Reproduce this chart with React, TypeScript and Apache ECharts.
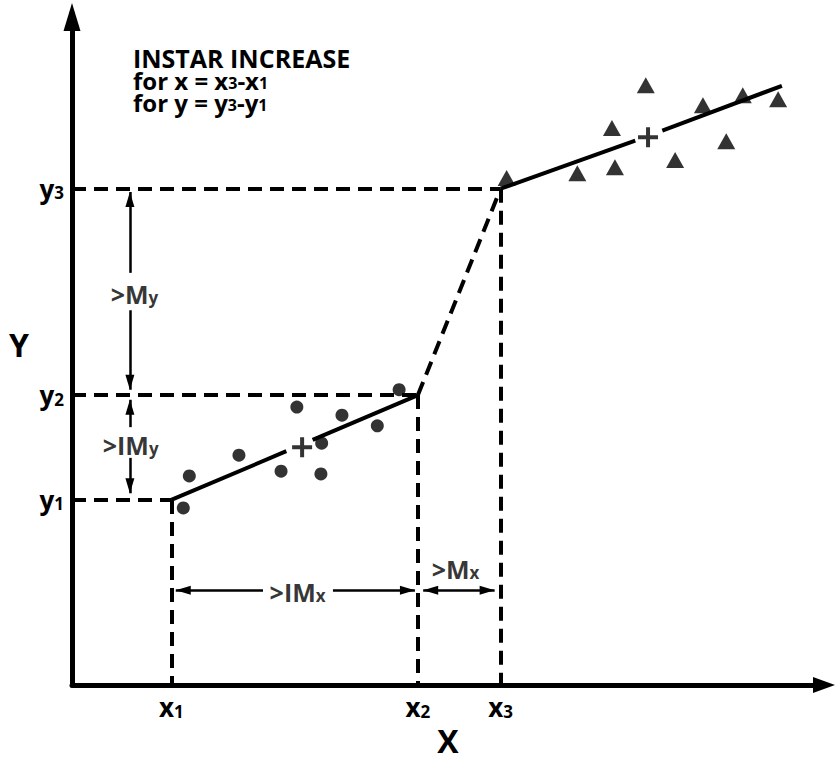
import React, { useEffect, useRef } from "react";
import * as echarts from "echarts";

// ---- data (axis units: 0..100 on both axes) ----
const x1 = 13.2;
const x2 = 46.0;
const x3 = 57.0;
const y1 = 27.7;
const y2 = 43.4;
const y3 = 74.3;

const xTickValues = [x1, x2, x3];
const xTickSubs = ["1", "2", "3"];
const yTickValues = [y1, y2, y3];
const yTickSubs = ["1", "2", "3"];

const circlePoints = [
  [14.8, 26.5],
  [15.6, 31.3],
  [22.2, 34.4],
  [27.8, 32.0],
  [29.9, 41.6],
  [33.2, 36.2],
  [33.1, 31.6],
  [35.9, 40.4],
  [40.6, 38.8],
  [43.5, 44.2],
];

const trianglePoints = [
  [57.8, 75.9],
  [67.2, 76.6],
  [72.2, 77.5],
  [71.8, 83.4],
  [76.3, 89.8],
  [80.2, 78.6],
  [83.9, 86.8],
  [87.0, 81.4],
  [89.2, 88.3],
  [93.9, 87.7],
];

const centroids = [
  [30.6, 35.6],
  [76.6, 82.0],
];

const lowerFitA = [
  [x1, y1],
  [28.5, 35.0],
];
const lowerFitB = [
  [32.0, 36.7],
  [x2, y2],
];
const upperFitA = [
  [x3, y3],
  [74.9, 81.5],
];
const upperFitB = [
  [78.5, 83.0],
  [94.4, 89.7],
];
const transitionLine = [
  [x2, y2],
  [x3, y3],
];

const guideLines = [
  [[0, y3], [x3, y3]],
  [[0, y2], [x2, y2]],
  [[0, y1], [x1, y1]],
  [[x1, y1], [x1, 0]],
  [[x2, y2], [x2, 0]],
  [[x3, y3], [x3, 0]],
];

// single-headed arrows: head at second point
const singleArrows = [
  [[7.7, 61.7], [7.7, 73.8]],
  [[7.7, 56.1], [7.7, 44.2]],
  [[7.7, 38.6], [7.7, 42.7]],
  [[7.7, 34.0], [7.7, 28.7]],
  [[25.4, 14.2], [13.8, 14.2]],
  [[34.7, 14.2], [45.6, 14.2]],
];
const doubleArrows = [[[46.7, 14.2], [56.2, 14.2]]];

const annotationPoints = [
  [8.3, 58.5],
  [7.8, 36.0],
  [30.0, 13.9],
  [51.0, 17.4],
];
const annotationTexts = [
  "{m|>M}{s|y}",
  "{m|>IM}{s|y}",
  "{m|>IM}{s|x}",
  "{m|>M}{s|x}",
];

const FONT = "Open Sans";

const subRich = (size: number, lh: number, sub: number, drop: number) => ({
  m: { fontSize: size, fontWeight: "bold", fontFamily: FONT, color: "#000", lineHeight: lh },
  s: {
    fontSize: sub,
    fontWeight: "bold",
    fontFamily: FONT,
    color: "#000",
    lineHeight: sub,
    padding: [drop, 0, 0, 0],
  },
});

export default function App() {
  const ref = useRef<HTMLDivElement>(null);

  useEffect(() => {
    if (!ref.current) return;
    const chart = echarts.init(ref.current, null, { renderer: "svg" });

    const seg = (pts: number[][][]) =>
      pts.map((p) => [{ coord: p[0] }, { coord: p[1] }]);

    const fitStyle = { color: "#000", width: 4 };

    const option: any = {
      animation: false,
      backgroundColor: "#fff",
      title: {
        left: 133,
        top: 47,
        padding: 0,
        text:
          "{h|INSTAR INCREASE}\n{f|for x = x}{s|3}{f|-x}{s|1}\n{f|for y = y}{s|3}{f|-y}{s|1}",
        textStyle: {
          rich: {
            h: { fontSize: 25, fontWeight: "bold", fontFamily: FONT, color: "#000", lineHeight: 22 },
            f: { fontSize: 24, fontWeight: "bold", fontFamily: FONT, color: "#000", lineHeight: 22 },
            s: { fontSize: 16, fontWeight: "bold", fontFamily: FONT, color: "#000", lineHeight: 16, padding: [6, 0, 0, 0] },
          },
        },
      },
      graphic: [
        {
          type: "text",
          left: 9,
          top: 328,
          style: { text: "Y", fontSize: 32, fontWeight: "bold", fontFamily: FONT, fill: "#000" },
          silent: true,
        },
      ],
      grid: { left: 72, right: 11, top: 17, bottom: 72, containLabel: false, outerBoundsMode: "none" },
      xAxis: {
        type: "value",
        min: 0,
        max: 100,
        name: "X",
        nameLocation: "middle",
        nameGap: 40,
        nameTextStyle: { fontSize: 32, fontWeight: "bold", fontFamily: FONT, color: "#000", lineHeight: 28 },
        axisLine: {
          show: true,
          symbol: ["none", "triangle"],
          symbolSize: [16, 22],
          lineStyle: { color: "#000", width: 5 },
        },
        axisTick: { show: false },
        splitLine: { show: false },
        axisLabel: {
          show: true,
          customValues: xTickValues,
          margin: 9,
          formatter: (v: number) => {
            const i = xTickValues.indexOf(v);
            return "{m|x}{s|" + (i >= 0 ? xTickSubs[i] : "") + "}";
          },
          rich: subRich(26, 26, 17, 8),
        },
      },
      yAxis: {
        type: "value",
        min: 0,
        max: 100,
        axisLine: {
          show: true,
          symbol: ["none", "triangle"],
          symbolSize: [17, 28],
          lineStyle: { color: "#000", width: 5 },
        },
        axisTick: { show: false },
        splitLine: { show: false },
        axisLabel: {
          show: true,
          customValues: yTickValues,
          margin: 8,
          formatter: (v: number) => {
            const i = yTickValues.indexOf(v);
            return "{m|y}{s|" + (i >= 0 ? yTickSubs[i] : "") + "}";
          },
          rich: subRich(26, 26, 17, 8),
        },
      },
      series: [
        {
          name: "guides",
          type: "line",
          data: transitionLine,
          showSymbol: false,
          symbol: "none",
          lineStyle: { color: "#000", width: 4, type: [14, 8] },
          silent: true,
          z: 2,
          markLine: {
            silent: true,
            symbol: ["none", "none"],
            label: { show: false },
            lineStyle: { color: "#000", width: 4, type: [14, 8] },
            emphasis: { disabled: true },
            data: seg(guideLines),
          },
        },
        { type: "line", data: lowerFitA, symbol: "none", lineStyle: fitStyle, silent: true, z: 3 },
        { type: "line", data: lowerFitB, symbol: "none", lineStyle: fitStyle, silent: true, z: 3 },
        { type: "line", data: upperFitA, symbol: "none", lineStyle: fitStyle, silent: true, z: 3 },
        { type: "line", data: upperFitB, symbol: "none", lineStyle: fitStyle, silent: true, z: 3 },
        {
          name: "before",
          type: "scatter",
          data: circlePoints,
          symbol: "circle",
          symbolSize: 13,
          itemStyle: { color: "#000" },
          silent: true,
          z: 4,
        },
        {
          name: "after",
          type: "scatter",
          data: trianglePoints,
          symbol: "triangle",
          symbolSize: [18, 16],
          itemStyle: { color: "#000" },
          silent: true,
          z: 4,
        },
        {
          name: "centroid",
          type: "scatter",
          data: centroids,
          symbol: "path://M8,0H12V8H20V12H12V20H8V12H0V8H8Z",
          symbolSize: 20,
          itemStyle: { color: "#000" },
          silent: true,
          z: 4,
        },
        {
          name: "labels",
          type: "scatter",
          data: annotationPoints.map((p, i) => ({ value: p, name: annotationTexts[i] })),
          symbolSize: 0,
          silent: true,
          z: 5,
          label: {
            show: true,
            position: "inside",
            formatter: "{b}",
            rich: subRich(25, 24, 17, 7),
          },
          markLine: {
            silent: true,
            symbol: ["none", "triangle"],
            symbolSize: [9, 15],
            symbolOffset: [[0, 7.5], [0, 7.5]],
            label: { show: false },
            lineStyle: { color: "#000", width: 2.5, type: "solid" },
            emphasis: { disabled: true },
            data: seg(singleArrows),
          },
        },
        {
          name: "doubleArrow",
          type: "scatter",
          data: [],
          silent: true,
          markLine: {
            silent: true,
            symbol: ["triangle", "triangle"],
            symbolSize: [9, 15],
            symbolOffset: [[0, 7.5], [0, 7.5]],
            label: { show: false },
            lineStyle: { color: "#000", width: 2.5, type: "solid" },
            emphasis: { disabled: true },
            data: seg(doubleArrows),
          },
        },
      ],
    };

    chart.setOption(option);
    return () => chart.dispose();
  }, []);

  return (
    <div
      ref={ref}
      style={{ position: "absolute", left: 0, top: 0, width: 835, height: 757, background: "#fff" }}
    />
  );
}
